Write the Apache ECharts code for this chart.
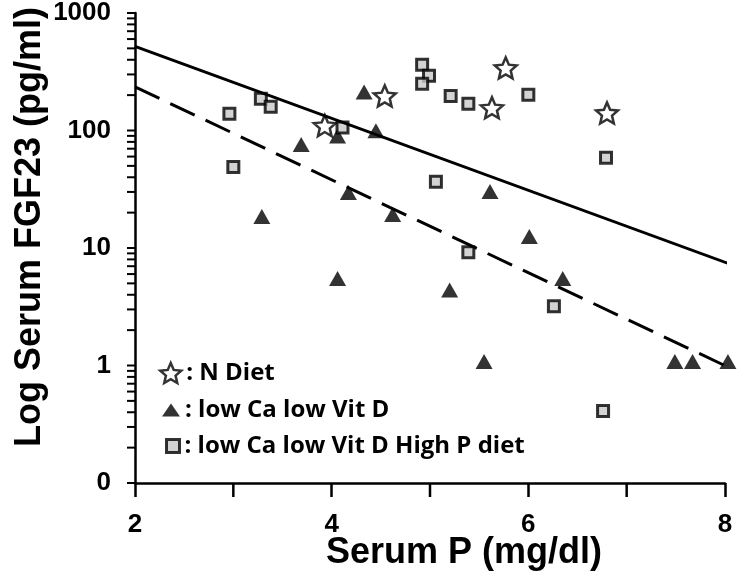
<!DOCTYPE html>
<html>
<head>
<meta charset="utf-8">
<script src="https://cdn.jsdelivr.net/npm/echarts@6/dist/echarts.min.js"></script>
<style>
html,body{margin:0;padding:0;background:#fff;}
#chart{width:737px;height:585px;}
</style>
</head>
<body>
<div id="chart"></div>
<script>
// ---- data (x: Serum P mg/dl, y: FGF23 pg/ml) ----
const nDietX = [3.93, 4.54, 5.77, 5.63, 6.80];
const nDietY = [110, 197, 341, 156, 141];

const lowCaX = [4.33, 4.45, 4.06, 3.69, 4.17, 4.62, 3.29, 4.06, 5.61, 6.01, 5.20, 6.35, 5.55, 7.49, 7.67, 8.03];
const lowCaY = [213, 99.5, 90, 76, 29.6, 19.3, 18.5, 5.5, 30.2, 12.5, 4.4, 5.5, 1.08, 1.08, 1.08, 1.08];

const highPX = [2.96, 3.00, 3.28, 3.38, 4.11, 4.92, 4.99, 4.92, 5.06, 5.21, 5.39, 6.00, 6.79, 5.39, 6.26, 6.76];
const highPY = [139, 49, 186, 159, 106, 362, 292, 250, 36.7, 197, 169, 201, 58.7, 9.2, 3.2, 0.41];

// regression lines (endpoints)
const solidLineX = [2, 8.03];
const solidLineY = [520, 7.4];
const dashedLineX = [2, 8.1];
const dashedLineY = [235, 0.91];

const seriesNames = ['N Diet', 'low Ca low Vit D', 'low Ca low Vit D High P diet'];
const xTitle = 'Serum P (mg/dl)';
const yTitle = 'Log Serum FGF23 (pg/ml)';
// tick positions (axis values)
const yTickValues = [0.1,0.2,0.3,0.4,0.5,0.6,0.7,0.8,0.9, 1,2,3,4,5,6,7,8,9, 10,20,30,40,50,60,70,80,90, 100,200,300,400,500,600,700,800,900, 1000];
const xMinorTickValues = [3, 5, 7];

const zip = (xs, ys) => xs.map((x, i) => [x, ys[i]]);

const starPath = 'path://M10,0 L12.70,6.28 L19.51,6.91 L14.37,11.42 L15.88,18.09 L10,14.6 L4.12,18.09 L5.63,11.42 L0.49,6.91 L7.30,6.28 Z';

const chart = echarts.init(document.getElementById('chart'));

const tickFont = {fontFamily: '"Liberation Sans", Arial, sans-serif', fontWeight: 'bold', fontSize: 26, color: '#000'};
const titleFontStr = 'bold 36px "Liberation Sans", Arial, sans-serif';
const legendText = {fontFamily: '"Open Sans", sans-serif', fontWeight: 'bold', fontSize: 24, color: '#000'};

function legendFor(i, left, top, w, h, icon, style) {
  return {
    orient: 'vertical', left: left, top: top, itemWidth: w, itemHeight: h, selectedMode: false,
    formatter: name => ': ' + name, textStyle: legendText,
    data: [{name: seriesNames[i], icon: icon, itemStyle: style}]
  };
}

const option = {
  animation: false,
  grid: {left: 135, right: 12, top: 12, bottom: 102},
  graphic: [
    {type: 'text', x: 464, y: 553, silent: true,
     style: {text: xTitle, font: titleFontStr, fill: '#000', align: 'center', verticalAlign: 'middle'}},
    {type: 'text', x: 30, y: 227, rotation: Math.PI / 2, silent: true,
     style: {text: yTitle, font: titleFontStr, fill: '#000', align: 'center', verticalAlign: 'middle'}}
  ],
  legend: [
    legendFor(0, 154, 356, 21, 20, starPath, {color: '#fff', borderColor: '#000', borderWidth: 2.5}),
    legendFor(1, 157, 393, 18, 13, 'triangle', {color: '#000', borderWidth: 0}),
    legendFor(2, 160, 429, 13, 13, 'rect', {color: '#c8c8c8', borderColor: '#000', borderWidth: 3})
  ],
  xAxis: {
    type: 'value',
    min: 2, max: 8, interval: 2,
    axisLine: {onZero: false, lineStyle: {color: '#000', width: 2.5}},
    axisTick: {show: true, length: 14, lineStyle: {color: '#000', width: 2.5}},
    axisLabel: Object.assign({}, tickFont, {margin: 29}),
    splitLine: {show: false}
  },
  yAxis: {
    type: 'log',
    logBase: 10,
    min: 0.1, max: 1000,
    axisLine: {show: true, lineStyle: {color: '#000', width: 2.5}},
    axisTick: {show: false},
    axisLabel: Object.assign({}, tickFont, {margin: 24, formatter: v => v < 0.5 ? '0' : String(Math.round(v))}),
    splitLine: {show: false}
  },
  series: [
    {
      name: 'yTicks', type: 'custom', clip: false, zlevel: 1,
      data: yTickValues.map(v => [2, v]),
      renderItem: (params, api) => {
        const p = api.coord([api.value(0), api.value(1)]);
        return {type: 'line', shape: {x1: p[0] - 8, y1: p[1], x2: p[0], y2: p[1]}, style: {stroke: '#000', lineWidth: 2}};
      }
    },
    {
      name: 'xMinorTicks', type: 'custom', clip: false, zlevel: 1,
      data: xMinorTickValues.map(v => [v, 0.1]),
      renderItem: (params, api) => {
        const p = api.coord([api.value(0), api.value(1)]);
        return {type: 'line', shape: {x1: p[0], y1: p[1], x2: p[0], y2: p[1] + 14}, style: {stroke: '#000', lineWidth: 2.5}};
      }
    },
    {
      name: 'solidFit', type: 'line', data: zip(solidLineX, solidLineY), showSymbol: false, symbol: 'none',
      clip: false,
      lineStyle: {color: '#000', width: 3}
    },
    {
      name: 'dashedFit', type: 'line', data: zip(dashedLineX, dashedLineY), showSymbol: false, symbol: 'none',
      clip: false,
      lineStyle: {color: '#000', width: 3, type: [27, 12]}
    },
    {
      name: seriesNames[0], type: 'scatter', data: zip(nDietX, nDietY), clip: false,
      symbol: starPath, symbolSize: [22, 21],
      itemStyle: {color: '#fff', borderColor: '#000', borderWidth: 2.5}
    },
    {
      name: seriesNames[1], type: 'scatter', data: zip(lowCaX, lowCaY), clip: false,
      symbol: 'triangle', symbolSize: [17, 15],
      itemStyle: {color: '#000', borderWidth: 0}
    },
    {
      name: seriesNames[2], type: 'scatter', data: zip(highPX, highPY), clip: false,
      symbol: 'rect', symbolSize: [11, 11],
      itemStyle: {color: '#c8c8c8', borderColor: '#000', borderWidth: 3}
    }
  ]
};
chart.setOption(option);
</script>
</body>
</html>
